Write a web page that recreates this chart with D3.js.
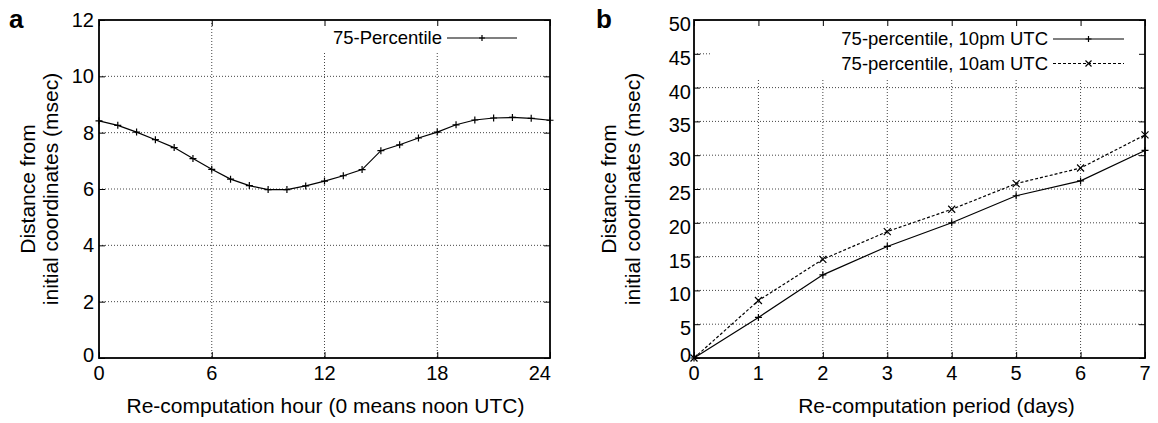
<!DOCTYPE html>
<html>
<head>
<meta charset="utf-8">
<script src="https://cdn.jsdelivr.net/npm/d3@7"></script>
<style>
  html, body { margin: 0; padding: 0; background: #fff; }
  svg { display: block; }
  text { font-family: "Liberation Sans", Arial, Helvetica, sans-serif; fill: #000; }
</style>
</head>
<body>
<svg id="chart" width="1158" height="423"></svg>
<script>
// ---- Panel a: hourly 75th percentile ----
const hours = [0, 1, 2, 3, 4, 5, 6, 7, 8, 9, 10, 11, 12, 13, 14, 15, 16, 17, 18, 19, 20, 21, 22, 23, 24];
const p75ByHour = [8.42, 8.26, 8.02, 7.75, 7.47, 7.08, 6.70, 6.35, 6.12, 5.98, 5.98, 6.11, 6.28,
                   6.47, 6.69, 7.36, 7.57, 7.81, 8.02, 8.28, 8.45, 8.52, 8.54, 8.51, 8.44];
const hourTicks = [0, 6, 12, 18, 24];
const distTicksA = [0, 2, 4, 6, 8, 10, 12];

// ---- Panel b: re-computation period ----
const days = [0, 1, 2, 3, 4, 5, 6, 7];
const p75At10pm = [0, 6.0, 12.3, 16.5, 20.0, 24.0, 26.2, 30.7];
const p75At10am = [0, 8.5, 14.6, 18.7, 22.0, 25.8, 28.1, 33.0];
const dayTicks = [0, 1, 2, 3, 4, 5, 6, 7];
const distTicksB = [0, 5, 10, 15, 20, 25, 30, 35, 40, 45, 50];

const svg = d3.select("#chart");
svg.append("rect").attr("width", 1158).attr("height", 423).attr("fill", "#fff");

const FS_TICK = 20;
const FS_KEY = 18.5;
const FS_TITLE = 21;
const TICK = 6;

function crossPlus(g, x, y, s) {
  g.append("path").attr("d", `M${x - s},${y}H${x + s}M${x},${y - s}V${y + s}`)
    .attr("stroke", "#000").attr("stroke-width", 1.2).attr("fill", "none");
}
function crossX(g, x, y, s) {
  g.append("path").attr("d", `M${x - s},${y - s}L${x + s},${y + s}M${x - s},${y + s}L${x + s},${y - s}`)
    .attr("stroke", "#000").attr("stroke-width", 1.2).attr("fill", "none");
}

function panel(cfg) {
  const g = svg.append("g");
  const x = d3.scaleLinear().domain(cfg.xDomain).range([cfg.left, cfg.right]);
  const y = d3.scaleLinear().domain(cfg.yDomain).range([cfg.bottom, cfg.top]);

  // dotted grid
  const grid = g.append("g").attr("stroke", "#444").attr("stroke-width", 1)
    .attr("stroke-dasharray", "1,2").attr("fill", "none");
  cfg.xTicks.slice(1, -1).forEach(t => {
    grid.append("line").attr("x1", x(t)).attr("x2", x(t)).attr("y1", cfg.top).attr("y2", cfg.bottom);
  });
  cfg.yTicks.slice(1, -1).forEach(t => {
    grid.append("line").attr("y1", y(t)).attr("y2", y(t)).attr("x1", cfg.left).attr("x2", cfg.right);
  });

  // key area is opaque
  g.append("rect").attr("x", cfg.keyBox[0]).attr("y", cfg.top)
    .attr("width", cfg.right - cfg.keyBox[0]).attr("height", cfg.keyBox[1] - cfg.top)
    .attr("fill", "#fff");

  // axes with inward ticks on all four sides, via d3 axis generators
  const axB = d3.axisBottom(x).tickValues(cfg.xTicks).tickSize(-TICK).tickFormat(() => "");
  const axT = d3.axisTop(x).tickValues(cfg.xTicks).tickSize(-TICK).tickFormat(() => "");
  const axL = d3.axisLeft(y).tickValues(cfg.yTicks).tickSize(-TICK).tickFormat(() => "");
  const axR = d3.axisRight(y).tickValues(cfg.yTicks).tickSize(-TICK).tickFormat(() => "");
  [[axB, `translate(0,${cfg.bottom})`], [axT, `translate(0,${cfg.top})`],
   [axL, `translate(${cfg.left},0)`], [axR, `translate(${cfg.right},0)`]].forEach(([ax, tr]) => {
    const a = g.append("g").attr("transform", tr).call(ax);
    a.select(".domain").remove();
    a.selectAll(".tick line").attr("stroke", "#000").attr("stroke-width", 1);
  });

  // frame
  g.append("rect").attr("x", cfg.left).attr("y", cfg.top)
    .attr("width", cfg.right - cfg.left).attr("height", cfg.bottom - cfg.top)
    .attr("fill", "none").attr("stroke", "#000").attr("stroke-width", 1.8);

  // tick labels
  cfg.xTicks.forEach((t, i) => {
    const last = cfg.lastXEnd && i === cfg.xTicks.length - 1;
    g.append("text").attr("x", x(t) + (last ? 1 : 0)).attr("y", cfg.bottom + 22)
      .attr("text-anchor", last ? "end" : "middle").attr("font-size", FS_TICK).text(t);
  });
  cfg.yTicks.forEach((t, i) => {
    const dy = i === 0 ? -3 : cfg.yLabelShift;
    g.append("text").attr("x", cfg.left - cfg.yLabelGap).attr("y", y(t) + dy)
      .attr("dy", "0.35em").attr("text-anchor", "end").attr("font-size", FS_TICK).text(t);
  });

  // axis titles
  g.append("text").attr("x", (cfg.left + cfg.right) / 2 + cfg.xTitleShift).attr("y", 413)
    .attr("text-anchor", "middle").attr("font-size", FS_TITLE).text(cfg.xTitle);
  const cy = (cfg.top + cfg.bottom) / 2;
  cfg.yTitle.forEach((line, i) => {
    g.append("text").attr("transform", `translate(${cfg.yTitleX[i]},${cy}) rotate(-90)`)
      .attr("text-anchor", "middle").attr("dy", "0.35em").attr("font-size", FS_TITLE).text(line);
  });

  // panel letter
  g.append("text").attr("x", cfg.letterX).attr("y", 28).attr("font-size", 26)
    .attr("font-weight", "bold").text(cfg.letter);

  // series
  cfg.series.forEach((s, k) => {
    const line = d3.line().x((d, i) => x(s.x[i])).y(d => y(d));
    g.append("path").datum(s.y).attr("d", line).attr("fill", "none")
      .attr("stroke", "#000").attr("stroke-width", 1.2)
      .attr("stroke-dasharray", s.dash || null);
    s.y.forEach((v, i) => s.mark(g, x(s.x[i]), y(v), 3.5));

    // key entry
    const ky = cfg.keyY + k * 24.5;
    g.append("text").attr("x", cfg.keyText).attr("y", ky).attr("dy", "0.35em")
      .attr("text-anchor", "end").attr("font-size", FS_KEY).text(s.label);
    g.append("line").attr("x1", cfg.keyLine[0]).attr("x2", cfg.keyLine[1])
      .attr("y1", ky).attr("y2", ky).attr("stroke", "#000").attr("stroke-width", 1.2)
      .attr("stroke-dasharray", s.dash || null);
    s.mark(g, (cfg.keyLine[0] + cfg.keyLine[1]) / 2, ky, 3);
  });
}

panel({
  letter: "a", letterX: 9,
  left: 99, right: 550, top: 20, bottom: 358,
  xDomain: [0, 24], yDomain: [0, 12],
  xTicks: hourTicks, yTicks: distTicksA, lastXEnd: true,
  yLabelGap: 5, yLabelShift: 0,
  xTitle: "Re-computation hour (0 means noon UTC)", xTitleShift: 1,
  yTitle: ["Distance from", "initial coordinates (msec)"], yTitleX: [28, 51],
  keyBox: [318, 52], keyY: 38, keyText: 442, keyLine: [447, 517],
  series: [{ label: "75-Percentile", x: hours, y: p75ByHour, mark: crossPlus }]
});

panel({
  letter: "b", letterX: 596,
  left: 694, right: 1145, top: 20, bottom: 358,
  xDomain: [0, 7], yDomain: [0, 50],
  xTicks: dayTicks, yTicks: distTicksB, lastXEnd: false,
  yLabelGap: 3, yLabelShift: 4,
  xTitle: "Re-computation period (days)", xTitleShift: 17,
  yTitle: ["Distance from", "initial coordinates (msec)"], yTitleX: [609, 633],
  keyBox: [712, 79], keyY: 39, keyText: 1048, keyLine: [1053, 1124],
  series: [
    { label: "75-percentile, 10pm UTC", x: days, y: p75At10pm, mark: crossPlus },
    { label: "75-percentile, 10am UTC", x: days, y: p75At10am, mark: crossX, dash: "3,2" }
  ]
});
</script>
</body>
</html>
